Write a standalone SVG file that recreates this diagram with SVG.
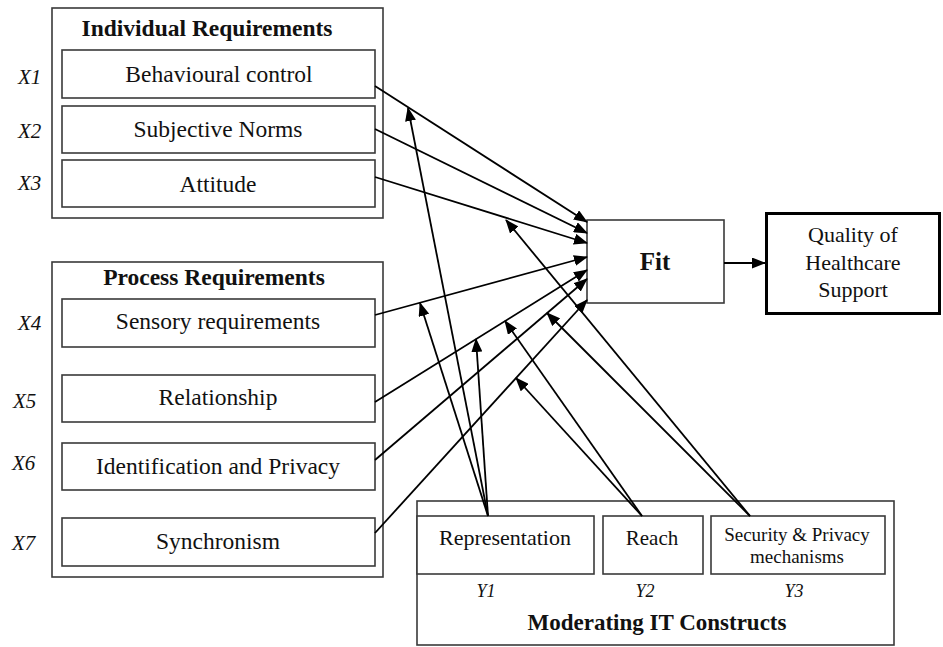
<svg xmlns="http://www.w3.org/2000/svg" width="943" height="647" viewBox="0 0 943 647">
<style>
text{font-family:"Liberation Serif","Times New Roman",serif;fill:#111;text-anchor:middle}
.t{font-size:23.5px;font-weight:bold}
.b{font-size:23.5px}
.lab{font-size:21px;font-style:italic;text-anchor:start}
.ylab{font-size:18px;font-style:italic}
.box{fill:#fff;stroke:#3a3a3a;stroke-width:1.6}
.outer{fill:none;stroke:#3a3a3a;stroke-width:1.6}
.con line{stroke:#000;stroke-width:1.8;marker-end:url(#ah)}
</style>
<defs>
<marker id="ah" markerWidth="14" markerHeight="11" refX="13" refY="5.5" orient="auto" markerUnits="userSpaceOnUse">
<path d="M0,0 L14,5.5 L0,11 z" fill="#000"/>
</marker>
</defs>
<rect width="943" height="647" fill="#fff"/>

<g id="individual-requirements">
<rect class="outer" x="52" y="8" width="331" height="210"/>
<text class="t" x="207" y="36">Individual Requirements</text>
</g>
<g id="x1">
<rect class="box" x="62" y="50" width="313" height="48"/>
<text class="b" x="219" y="82">Behavioural control</text>
<text class="lab" x="18" y="84">X1</text>
</g>
<g id="x2">
<rect class="box" x="62" y="106" width="313" height="47"/>
<text class="b" x="218" y="137">Subjective Norms</text>
<text class="lab" x="18" y="138">X2</text>
</g>
<g id="x3">
<rect class="box" x="62" y="160" width="313" height="47"/>
<text class="b" x="218" y="192">Attitude</text>
<text class="lab" x="18" y="190">X3</text>
</g>

<g id="process-requirements">
<rect class="outer" x="52" y="262" width="331" height="315"/>
<text class="t" x="214" y="285">Process Requirements</text>
</g>
<g id="x4">
<rect class="box" x="62" y="299" width="313" height="48"/>
<text class="b" x="218" y="329">Sensory requirements</text>
<text class="lab" x="18" y="330">X4</text>
</g>
<g id="x5">
<rect class="box" x="62" y="375" width="313" height="47"/>
<text class="b" x="218" y="405">Relationship</text>
<text class="lab" x="13" y="408">X5</text>
</g>
<g id="x6">
<rect class="box" x="62" y="443" width="313" height="47"/>
<text class="b" x="218" y="474">Identification and Privacy</text>
<text class="lab" x="12" y="470">X6</text>
</g>
<g id="x7">
<rect class="box" x="62" y="518" width="313" height="48"/>
<text class="b" x="218" y="549">Synchronism</text>
<text class="lab" x="12" y="550">X7</text>
</g>

<g id="fit">
<rect class="box" x="587" y="220" width="137" height="83"/>
<text x="655" y="270" style="font-size:25px;font-weight:bold">Fit</text>
</g>
<g id="quality">
<rect x="766.5" y="213.5" width="173" height="100" fill="#fff" stroke="#000" stroke-width="3"/>
<text x="853" y="242" style="font-size:22px">Quality of</text>
<text x="853" y="270" style="font-size:22px">Healthcare</text>
<text x="853" y="297" style="font-size:22px">Support</text>
</g>

<g id="moderating-it-constructs">
<rect class="outer" x="417" y="501" width="477" height="144"/>
<text x="657" y="630" style="font-size:23px;font-weight:bold">Moderating IT Constructs</text>
</g>
<g id="y1">
<rect class="box" x="417" y="516" width="177" height="58"/>
<text x="505" y="545" style="font-size:22px">Representation</text>
<text class="ylab" x="486" y="597">Y1</text>
</g>
<g id="y2">
<rect class="box" x="603" y="516" width="100" height="58"/>
<text x="652" y="545" style="font-size:21px">Reach</text>
<text class="ylab" x="645" y="597">Y2</text>
</g>
<g id="y3">
<rect class="box" x="711" y="516" width="174" height="58"/>
<text x="797" y="541" style="font-size:19px">Security &amp; Privacy</text>
<text x="797" y="563" style="font-size:19px">mechanisms</text>
<text class="ylab" x="794" y="597">Y3</text>
</g>

<g id="connectors" class="con">
<line x1="375" y1="86" x2="587" y2="222"/>
<line x1="375" y1="129" x2="587" y2="233"/>
<line x1="375" y1="177" x2="587" y2="243"/>
<line x1="375" y1="315" x2="587" y2="257"/>
<line x1="375" y1="402" x2="587" y2="270"/>
<line x1="375" y1="460" x2="587" y2="279"/>
<line x1="375" y1="533" x2="587" y2="300"/>
<line x1="724" y1="263" x2="765" y2="263"/>
<line x1="488" y1="516" x2="408" y2="108"/>
<line x1="488" y1="516" x2="420" y2="303"/>
<line x1="488" y1="516" x2="476" y2="339"/>
<line x1="642" y1="516" x2="505" y2="321"/>
<line x1="642" y1="516" x2="516" y2="378"/>
<line x1="750" y1="516" x2="506" y2="220"/>
<line x1="750" y1="516" x2="547" y2="313"/>
</g>
</svg>
